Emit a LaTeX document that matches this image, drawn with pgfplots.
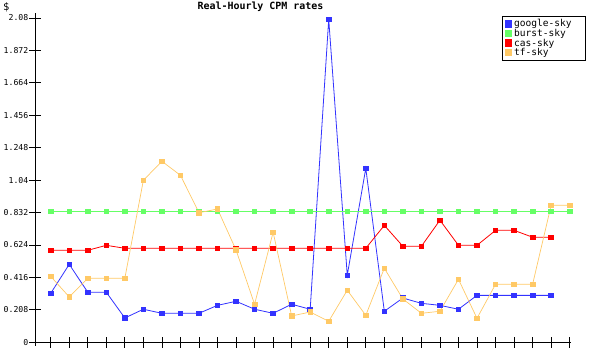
\documentclass[border=0pt]{standalone}
\usepackage{pgfplots}
\pgfplotsset{compat=1.18}
\usepackage{fontspec}
\setmainfont{DejaVu Sans Mono}
\setmonofont{DejaVu Sans Mono}
\definecolor{cgoogle}{RGB}{51,51,255}
\definecolor{cburst}{RGB}{102,255,102}
\definecolor{ccas}{RGB}{255,0,0}
\definecolor{ctf}{RGB}{255,201,102}
\begin{document}
\begin{tikzpicture}
\useasboundingbox (0,0) rectangle (600bp,360bp);
\node[font=\bfseries\fontsize{10}{12}\selectfont, anchor=base] at (260.5bp,350bp) {Real-Hourly CPM rates};
\node[font=\fontsize{10.5}{12}\selectfont, anchor=base west, inner sep=0pt] at (3bp,349.5bp) {\$};
\begin{axis}[
  at={(35bp,17.7bp)}, anchor=south west,
  scale only axis, width=535.6bp, height=329.3bp,
  xmin=0.153, xmax=29.05, ymin=0, ymax=2.112,
  axis lines=left, axis line style={-, line width=0.8bp, shorten <=-3.3bp},
  xtick={1,...,29}, xticklabels={},
  ytick={0,0.208,0.416,0.624,0.832,1.04,1.248,1.456,1.664,1.872,2.08},
  yticklabels={0,0.208,0.416,0.624,0.832,1.04,1.248,1.456,1.664,1.872,2.08},
  tick align=center, major tick length=11bp,
  tick style={line width=0.8bp, black},
  yticklabel style={font=\fontsize{8.2}{9}\selectfont, inner sep=1bp},
  every axis plot/.append style={line width=0.8bp, mark=square*, mark size=2.3bp, mark options={solid}},
  legend cell align=left,
  legend style={at={(0.8725,0.99)}, anchor=north west, draw=black, line width=0.8bp,
    font=\fontsize{9.6}{10}\selectfont, inner xsep=2bp, inner ysep=1bp, row sep=-3.2bp},
  legend image code/.code={\fill (0bp,-3bp) rectangle (6.5bp,3.5bp);},
]
\addplot[color=cgoogle] coordinates {(1,0.314)(2,0.500)(3,0.321)(4,0.321)(5,0.156)(6,0.212)(7,0.186)(8,0.186)(9,0.186)(10,0.237)(11,0.263)(12,0.212)(13,0.186)(14,0.244)(15,0.212)(16,2.072)(17,0.430)(18,1.116)(19,0.199)(20,0.284)(21,0.250)(22,0.237)(23,0.212)(24,0.301)(25,0.301)(26,0.301)(27,0.301)(28,0.301)};
\addlegendentry{google-sky\rule{9.5bp}{0bp}}
\addplot[color=cburst] coordinates {(1,0.84)(2,0.84)(3,0.84)(4,0.84)(5,0.84)(6,0.84)(7,0.84)(8,0.84)(9,0.84)(10,0.84)(11,0.84)(12,0.84)(13,0.84)(14,0.84)(15,0.84)(16,0.84)(17,0.84)(18,0.84)(19,0.84)(20,0.84)(21,0.84)(22,0.84)(23,0.84)(24,0.84)(25,0.84)(26,0.84)(27,0.84)(28,0.84)(29,0.84)};
\addlegendentry{burst-sky}
\addplot[color=ccas] coordinates {(1,0.590)(2,0.590)(3,0.590)(4,0.622)(5,0.603)(6,0.603)(7,0.603)(8,0.603)(9,0.603)(10,0.603)(11,0.603)(12,0.603)(13,0.603)(14,0.603)(15,0.603)(16,0.603)(17,0.603)(18,0.603)(19,0.750)(20,0.616)(21,0.616)(22,0.783)(23,0.622)(24,0.622)(25,0.718)(26,0.718)(27,0.674)(28,0.674)};
\addlegendentry{cas-sky}
\addplot[color=ctf, line width=0.7bp] coordinates {(1,0.423)(2,0.291)(3,0.411)(4,0.411)(5,0.411)(6,1.039)(7,1.161)(8,1.071)(9,0.831)(10,0.855)(11,0.592)(12,0.244)(13,0.706)(14,0.169)(15,0.194)(16,0.135)(17,0.334)(18,0.173)(19,0.475)(20,0.278)(21,0.186)(22,0.199)(23,0.404)(24,0.154)(25,0.372)(26,0.372)(27,0.372)(28,0.879)(29,0.879)};
\addlegendentry{tf-sky}
\end{axis}
\end{tikzpicture}
\end{document}
